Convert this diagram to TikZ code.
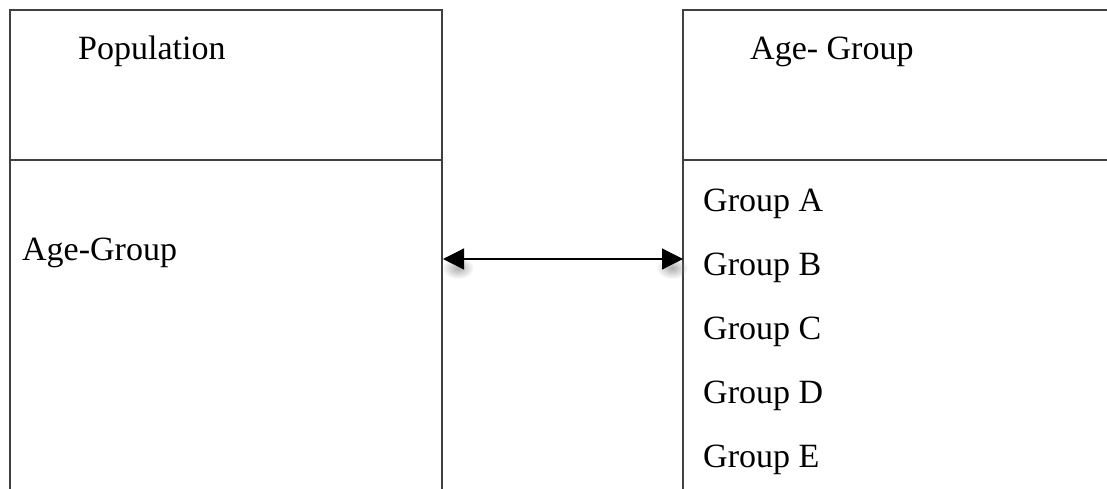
\documentclass[tikz,border=0pt]{standalone}
\usepackage{fontspec}
\setmainfont{Liberation Serif}
\usetikzlibrary{arrows.meta,fadings}
\tikzfading[name=softspot, inner color=transparent!30, outer color=transparent!100]
\begin{document}
\begin{tikzpicture}[x=1pt,y=-1pt,
  frame/.style={draw=black!75, line width=1.3pt},
  lbl/.style={anchor=base west, inner sep=0pt, font=\fontsize{34}{34}\selectfont},
  link/.style={line width=1.2pt, {Triangle[length=21pt,width=21pt]}-{Triangle[length=21pt,width=21pt]}},
  headshadow/.style={fill=black!45, path fading=softspot}
]
\useasboundingbox (0,0) rectangle (1107,489);
% left table
\draw[frame] (10,489) -- (10,10) -- (442,10) -- (442,489);
\draw[frame] (10,160) -- (442,160);
% right table
\draw[frame] (683,489) -- (683,10) -- (1107,10);
\draw[frame] (683,160) -- (1107,160);
% texts
\node[lbl] (pop) at (78,60) {Population};
\node[lbl] (agl) at (22,260) {Age-Group};
\node[lbl] (agr) at (750,60) {Age- Group};
\node[lbl] (ga) at (703,211) {Group A};
\node[lbl] (gb) at (703,275) {Group B};
\node[lbl] (gc) at (703,339) {Group C};
\node[lbl] (gd) at (703,403) {Group D};
\node[lbl] (ge) at (703,467) {Group E};
% connector with soft shadows under the tips
\coordinate (lend) at (443,259);
\coordinate (rend) at (683,259);
\fill[headshadow] (458,268) ellipse (16pt and 11pt);
\fill[headshadow] (672,268) ellipse (16pt and 11pt);
\draw[link] (lend) -- (rend);
\end{tikzpicture}
\end{document}
